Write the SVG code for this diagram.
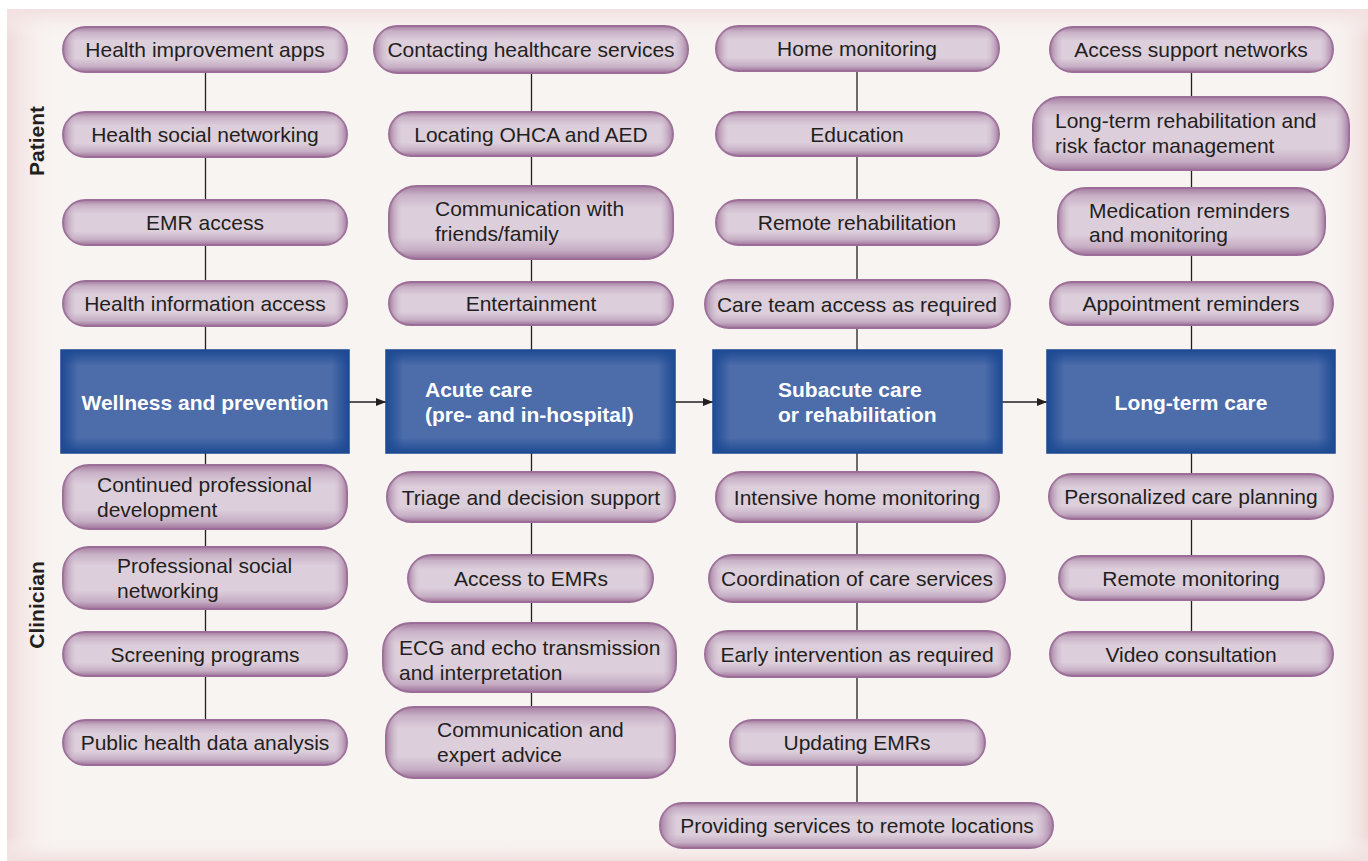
<svg xmlns="http://www.w3.org/2000/svg" width="1368" height="861" viewBox="0 0 1368 861">
<defs>
<style>
.t{font-family:"Liberation Sans",Arial,sans-serif;font-size:21px;fill:#231f20}
.c{text-anchor:middle}
.b{font-family:"Liberation Sans",Arial,sans-serif;font-size:21px;font-weight:bold;fill:#ffffff}
.lab{font-family:"Liberation Sans",Arial,sans-serif;font-size:21px;font-weight:bold;fill:#231f20;text-anchor:middle}
.pill{fill:url(#pg);stroke:#9b6e97;stroke-width:2}
.ph{fill:url(#ph);stroke:none}
.box{fill:#4c6caa;stroke:#1b468e;stroke-width:1.5}
.bh{fill:url(#bh);stroke:none}
.bv{fill:url(#bv);stroke:none}
.ln{stroke:#231f20;stroke-width:1.3;fill:none}
.ar{stroke:#231f20;stroke-width:1.3;fill:none;marker-end:url(#ah)}
</style>
<linearGradient id="pg" x1="0" y1="0" x2="0" y2="1">
<stop offset="0" stop-color="#a57ca1"/>
<stop offset="0.12" stop-color="#c8b1c6"/>
<stop offset="0.3" stop-color="#dccedb"/>
<stop offset="0.7" stop-color="#dccedb"/>
<stop offset="0.88" stop-color="#c6aec4"/>
<stop offset="1" stop-color="#9f739b"/>
</linearGradient>
<linearGradient id="ph" x1="0" y1="0" x2="1" y2="0">
<stop offset="0" stop-color="#9f739b" stop-opacity="0.9"/>
<stop offset="0.045" stop-color="#c8b1c6" stop-opacity="0"/>
<stop offset="0.955" stop-color="#c8b1c6" stop-opacity="0"/>
<stop offset="1" stop-color="#9f739b" stop-opacity="0.9"/>
</linearGradient>
<linearGradient id="bh" x1="0" y1="0" x2="1" y2="0">
<stop offset="0" stop-color="#1d4a93"/>
<stop offset="0.06" stop-color="#1d4a93" stop-opacity="0"/>
<stop offset="0.94" stop-color="#1d4a93" stop-opacity="0"/>
<stop offset="1" stop-color="#1d4a93"/>
</linearGradient>
<linearGradient id="bv" x1="0" y1="0" x2="0" y2="1">
<stop offset="0" stop-color="#1d4a93"/>
<stop offset="0.15" stop-color="#1d4a93" stop-opacity="0"/>
<stop offset="0.85" stop-color="#1d4a93" stop-opacity="0"/>
<stop offset="1" stop-color="#1d4a93"/>
</linearGradient>
<linearGradient id="gl" x1="0" y1="0" x2="1" y2="0">
<stop offset="0" stop-color="#efdad9"/>
<stop offset="1" stop-color="#f8f4f2" stop-opacity="0"/>
</linearGradient>
<linearGradient id="gr" x1="1" y1="0" x2="0" y2="0">
<stop offset="0" stop-color="#efdad9"/>
<stop offset="1" stop-color="#f8f4f2" stop-opacity="0"/>
</linearGradient>
<linearGradient id="gt" x1="0" y1="0" x2="0" y2="1">
<stop offset="0" stop-color="#f1e0df"/>
<stop offset="1" stop-color="#f8f4f2" stop-opacity="0"/>
</linearGradient>
<linearGradient id="gb" x1="0" y1="1" x2="0" y2="0">
<stop offset="0" stop-color="#f1e0df"/>
<stop offset="1" stop-color="#f8f4f2" stop-opacity="0"/>
</linearGradient>
<marker id="ah" markerWidth="10" markerHeight="8" refX="10" refY="4" orient="auto" markerUnits="userSpaceOnUse">
<path d="M0,0 L10,4 L0,8 Z" fill="#231f20"/>
</marker>
</defs>
<rect width="1368" height="861" fill="#ffffff"/>
<g id="panel">
<rect x="7" y="9" width="1361" height="852" fill="#f8f4f2"/>
<rect x="7" y="9" width="50" height="852" fill="url(#gl)"/>
<rect x="1328" y="9" width="40" height="852" fill="url(#gr)"/>
<rect x="7" y="9" width="1361" height="30" fill="url(#gt)"/>
<rect x="7" y="836" width="1361" height="25" fill="url(#gb)"/>
</g>

<g id="labels">
<text class="lab" transform="translate(44,141) rotate(-90)">Patient</text>
<text class="lab" transform="translate(44,605) rotate(-90)">Clinician</text>
</g>

<g id="connectors">
<line class="ln" x1="205.5" y1="72" x2="205.5" y2="720"/>
<line class="ln" x1="531.5" y1="73" x2="531.5" y2="707"/>
<line class="ln" x1="857" y1="71" x2="857" y2="803"/>
<line class="ln" x1="1191.5" y1="72" x2="1191.5" y2="632"/>
<line class="ar" x1="349" y1="402" x2="386" y2="402"/>
<line class="ar" x1="675" y1="402" x2="713" y2="402"/>
<line class="ar" x1="1002" y1="402" x2="1047" y2="402"/>
</g>

<!-- Column 1 -->
<g id="n-health-apps"><rect class="pill" x="63" y="27" width="284" height="45" rx="22.5"/><rect class="ph" x="63" y="27" width="284" height="45" rx="22.5"/><text class="t c" x="205" y="57">Health improvement apps</text></g>
<g id="n-health-social"><rect class="pill" x="63" y="112" width="284" height="45" rx="22.5"/><rect class="ph" x="63" y="112" width="284" height="45" rx="22.5"/><text class="t c" x="205" y="142">Health social networking</text></g>
<g id="n-emr-access"><rect class="pill" x="63" y="200" width="284" height="45" rx="22.5"/><rect class="ph" x="63" y="200" width="284" height="45" rx="22.5"/><text class="t c" x="205" y="230">EMR access</text></g>
<g id="n-health-info"><rect class="pill" x="63" y="281" width="284" height="45" rx="22.5"/><rect class="ph" x="63" y="281" width="284" height="45" rx="22.5"/><text class="t c" x="205" y="311">Health information access</text></g>
<g id="n-wellness"><rect class="box" x="61" y="350" width="288" height="103"/><rect class="bh" x="61" y="350" width="288" height="103"/><rect class="bv" x="61" y="350" width="288" height="103"/><text class="b c" x="205" y="409.5">Wellness and prevention</text></g>
<g id="n-cpd"><rect class="pill" x="63" y="465" width="284" height="64" rx="26"/><rect class="ph" x="63" y="465" width="284" height="64" rx="26"/><text class="t" x="97" y="492">Continued professional</text><text class="t" x="97" y="517">development</text></g>
<g id="n-prof-social"><rect class="pill" x="63" y="547" width="284" height="62" rx="26"/><rect class="ph" x="63" y="547" width="284" height="62" rx="26"/><text class="t" x="117" y="573">Professional social</text><text class="t" x="117" y="598">networking</text></g>
<g id="n-screening"><rect class="pill" x="63" y="632" width="284" height="44" rx="22"/><rect class="ph" x="63" y="632" width="284" height="44" rx="22"/><text class="t c" x="205" y="661.5">Screening programs</text></g>
<g id="n-public-health"><rect class="pill" x="63" y="720" width="284" height="45" rx="22.5"/><rect class="ph" x="63" y="720" width="284" height="45" rx="22.5"/><text class="t c" x="205" y="750">Public health data analysis</text></g>

<!-- Column 2 -->
<g id="n-contacting"><rect class="pill" x="374" y="26" width="314" height="47" rx="23.5"/><rect class="ph" x="374" y="26" width="314" height="47" rx="23.5"/><text class="t c" x="531" y="57">Contacting healthcare services</text></g>
<g id="n-locating"><rect class="pill" x="389" y="112" width="284" height="44" rx="22"/><rect class="ph" x="389" y="112" width="284" height="44" rx="22"/><text class="t c" x="531" y="141.5">Locating OHCA and AED</text></g>
<g id="n-comm-friends"><rect class="pill" x="389" y="186" width="284" height="73" rx="28"/><rect class="ph" x="389" y="186" width="284" height="73" rx="28"/><text class="t" x="435" y="216">Communication with</text><text class="t" x="435" y="241">friends/family</text></g>
<g id="n-entertainment"><rect class="pill" x="389" y="282" width="284" height="43" rx="21.5"/><rect class="ph" x="389" y="282" width="284" height="43" rx="21.5"/><text class="t c" x="531" y="311">Entertainment</text></g>
<g id="n-acute"><rect class="box" x="386" y="350" width="289" height="103"/><rect class="bh" x="386" y="350" width="289" height="103"/><rect class="bv" x="386" y="350" width="289" height="103"/><text class="b" x="425" y="396.5">Acute care</text><text class="b" x="425" y="421.5">(pre- and in-hospital)</text></g>
<g id="n-triage"><rect class="pill" x="387" y="472" width="288" height="50" rx="25"/><rect class="ph" x="387" y="472" width="288" height="50" rx="25"/><text class="t c" x="531" y="504.5">Triage and decision support</text></g>
<g id="n-access-emr"><rect class="pill" x="408" y="555" width="245" height="47" rx="23.5"/><rect class="ph" x="408" y="555" width="245" height="47" rx="23.5"/><text class="t c" x="531" y="586">Access to EMRs</text></g>
<g id="n-ecg"><rect class="pill" x="383" y="623" width="293" height="69" rx="28"/><rect class="ph" x="383" y="623" width="293" height="69" rx="28"/><text class="t" x="399" y="654.5">ECG and echo transmission</text><text class="t" x="399" y="679.5">and interpretation</text></g>
<g id="n-expert"><rect class="pill" x="386" y="707" width="289" height="71" rx="28"/><rect class="ph" x="386" y="707" width="289" height="71" rx="28"/><text class="t" x="437" y="736.5">Communication and</text><text class="t" x="437" y="761.5">expert advice</text></g>

<!-- Column 3 -->
<g id="n-home-mon"><rect class="pill" x="716" y="26" width="283" height="45" rx="22.5"/><rect class="ph" x="716" y="26" width="283" height="45" rx="22.5"/><text class="t c" x="857" y="56">Home monitoring</text></g>
<g id="n-education"><rect class="pill" x="716" y="112" width="283" height="44" rx="22"/><rect class="ph" x="716" y="112" width="283" height="44" rx="22"/><text class="t c" x="857" y="141.5">Education</text></g>
<g id="n-remote-rehab"><rect class="pill" x="716" y="200" width="283" height="45" rx="22.5"/><rect class="ph" x="716" y="200" width="283" height="45" rx="22.5"/><text class="t c" x="857" y="230">Remote rehabilitation</text></g>
<g id="n-care-team"><rect class="pill" x="705" y="280" width="305" height="48" rx="24"/><rect class="ph" x="705" y="280" width="305" height="48" rx="24"/><text class="t c" x="857" y="311.5">Care team access as required</text></g>
<g id="n-subacute"><rect class="box" x="713" y="350" width="289" height="103"/><rect class="bh" x="713" y="350" width="289" height="103"/><rect class="bv" x="713" y="350" width="289" height="103"/><text class="b" x="778" y="396.5">Subacute care</text><text class="b" x="778" y="421.5">or rehabilitation</text></g>
<g id="n-intensive"><rect class="pill" x="716" y="472" width="283" height="50" rx="25"/><rect class="ph" x="716" y="472" width="283" height="50" rx="25"/><text class="t c" x="857" y="504.5">Intensive home monitoring</text></g>
<g id="n-coordination"><rect class="pill" x="709" y="555" width="296" height="47" rx="23.5"/><rect class="ph" x="709" y="555" width="296" height="47" rx="23.5"/><text class="t c" x="857" y="586">Coordination of care services</text></g>
<g id="n-early"><rect class="pill" x="705" y="631" width="305" height="46" rx="23"/><rect class="ph" x="705" y="631" width="305" height="46" rx="23"/><text class="t c" x="857" y="661.5">Early intervention as required</text></g>
<g id="n-updating"><rect class="pill" x="730" y="720" width="255" height="45" rx="22.5"/><rect class="ph" x="730" y="720" width="255" height="45" rx="22.5"/><text class="t c" x="857" y="750">Updating EMRs</text></g>
<g id="n-providing"><rect class="pill" x="660" y="803" width="393" height="45" rx="22.5"/><rect class="ph" x="660" y="803" width="393" height="45" rx="22.5"/><text class="t c" x="857" y="833">Providing services to remote locations</text></g>

<!-- Column 4 -->
<g id="n-support"><rect class="pill" x="1050" y="27" width="283" height="45" rx="22.5"/><rect class="ph" x="1050" y="27" width="283" height="45" rx="22.5"/><text class="t c" x="1191" y="57">Access support networks</text></g>
<g id="n-longterm-rehab"><rect class="pill" x="1033" y="97" width="316" height="73" rx="28"/><rect class="ph" x="1033" y="97" width="316" height="73" rx="28"/><text class="t" x="1055" y="127.5">Long-term rehabilitation and</text><text class="t" x="1055" y="152.5">risk factor management</text></g>
<g id="n-medication"><rect class="pill" x="1058" y="188" width="267" height="67" rx="28"/><rect class="ph" x="1058" y="188" width="267" height="67" rx="28"/><text class="t" x="1089" y="217.5">Medication reminders</text><text class="t" x="1089" y="241.5">and monitoring</text></g>
<g id="n-appointment"><rect class="pill" x="1050" y="282" width="283" height="43" rx="21.5"/><rect class="ph" x="1050" y="282" width="283" height="43" rx="21.5"/><text class="t c" x="1191" y="311">Appointment reminders</text></g>
<g id="n-longterm"><rect class="box" x="1047" y="350" width="288" height="103"/><rect class="bh" x="1047" y="350" width="288" height="103"/><rect class="bv" x="1047" y="350" width="288" height="103"/><text class="b c" x="1191" y="409.5">Long-term care</text></g>
<g id="n-personalized"><rect class="pill" x="1049" y="474" width="284" height="45" rx="22.5"/><rect class="ph" x="1049" y="474" width="284" height="45" rx="22.5"/><text class="t c" x="1191" y="504">Personalized care planning</text></g>
<g id="n-remote-mon"><rect class="pill" x="1059" y="556" width="265" height="44" rx="22"/><rect class="ph" x="1059" y="556" width="265" height="44" rx="22"/><text class="t c" x="1191" y="585.5">Remote monitoring</text></g>
<g id="n-video"><rect class="pill" x="1050" y="632" width="283" height="44" rx="22"/><rect class="ph" x="1050" y="632" width="283" height="44" rx="22"/><text class="t c" x="1191" y="661.5">Video consultation</text></g>
</svg>
